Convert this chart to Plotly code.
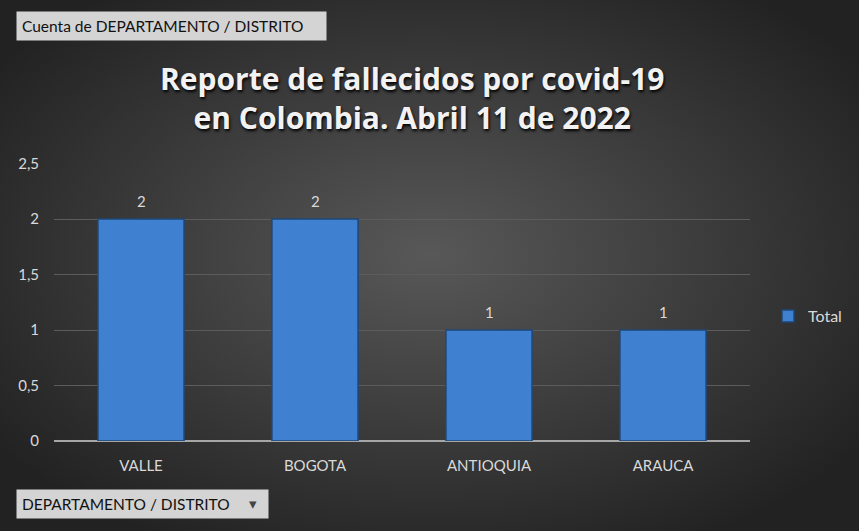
import plotly.graph_objects as go
import base64

categories = ["VALLE", "BOGOTA", "ANTIOQUIA", "ARAUCA"]
values = [2, 2, 1, 1]
series_name = "Total"
tick_vals = [0, 0.5, 1, 1.5, 2, 2.5]
tick_text = ["0", "0,5", "1", "1,5", "2", "2,5"]
title_text = "Reporte de fallecidos por covid-19<br>en Colombia. Abril 11 de 2022"
field_button = "Cuenta de DEPARTAMENTO / DISTRITO"
axis_button = "DEPARTAMENTO / DISTRITO"

W, H = 859, 531
y_top = 2.505
L, R, B = 54, 109, 90
ph = round(277 * y_top / 2.5)
T = H - B - ph
pw = W - L - R

svg = f'''<svg xmlns="http://www.w3.org/2000/svg" width="{W}" height="{H}" preserveAspectRatio="none">
<defs><radialGradient id="g" cx="50%" cy="48%" r="62%">
<stop offset="0%" stop-color="#585858"/><stop offset="100%" stop-color="#222222"/>
</radialGradient></defs><rect width="{W}" height="{H}" fill="url(#g)"/></svg>'''
bg = "data:image/svg+xml;base64," + base64.b64encode(svg.encode()).decode()

fig = go.Figure()
fig.add_trace(go.Bar(
    x=categories, y=values, name=series_name, showlegend=True,
    marker=dict(color="#3f80d0", line=dict(color="#1f4777", width=1.5)),
    width=0.495,
))

label_annotations = [
    dict(x=c, y=v, xref="x", yref="y", text=str(v), showarrow=False,
         yanchor="bottom", yshift=7, font=dict(size=15, color="#d9d9d9", family="Lato"))
    for c, v in zip(categories, values)
]

fig.update_layout(
    width=W, height=H,
    margin=dict(l=L, r=R, t=T, b=B),
    paper_bgcolor="#2b2b2b", plot_bgcolor="rgba(0,0,0,0)",
    font=dict(family="Lato", color="#d9d9d9", size=15),
    separators=",.",
    images=[dict(source=bg, xref="paper", yref="paper",
                 x=-L / pw, y=1 + T / ph, sizex=W / pw, sizey=H / ph,
                 xanchor="left", yanchor="top", sizing="stretch", layer="below")],
    xaxis=dict(showgrid=False, tickfont=dict(size=15, color="#d9d9d9"),
               ticks="", showline=False, ticklabelstandoff=14),
    yaxis=dict(range=[0, y_top], tickvals=tick_vals, ticktext=tick_text,
               showgrid=True, gridcolor="#5c5c5c", gridwidth=1,
               zeroline=True, zerolinecolor="#a6a6a6", zerolinewidth=2,
               tickfont=dict(size=15, color="#d9d9d9"), ticks="", ticklabelstandoff=14),
    legend=dict(x=(768 - L) / pw, y=(441 - 316) / ph, xanchor="left", yanchor="middle",
                font=dict(size=16, color="#d9d9d9"), bgcolor="rgba(0,0,0,0)",
                itemwidth=30),
    annotations=label_annotations + [
        dict(text="<b>" + title_text + "</b>", xref="paper", yref="paper",
             x=(412 - L) / pw, y=1 + (T - 98) / ph, xanchor="center", yanchor="middle",
             showarrow=False,
             font=dict(size=30, color="#f2f2f2", family="Open Sans",
                       shadow="1px 2px 3px #000000"),
             align="center"),
        dict(text=field_button, xref="paper", yref="paper",
             x=(16 - L) / pw, y=1 + (T - 26) / ph, xanchor="left", yanchor="middle",
             showarrow=False, font=dict(size=15.5, color="#111111", family="Lato"),
             bgcolor="#d4d4d4", borderpad=5, width=299, align="left"),
        dict(text=axis_button, xref="paper", yref="paper",
             x=(16 - L) / pw, y=-(504 - 441) / ph, xanchor="left", yanchor="middle",
             showarrow=False, font=dict(size=15.5, color="#111111", family="Lato"),
             bgcolor="#d4d4d4", borderpad=5, width=241, align="left"),
        dict(text="\u25BE", xref="paper", yref="paper",
             x=(253 - L) / pw, y=-(504 - 441) / ph, xanchor="center", yanchor="middle",
             showarrow=False, font=dict(size=15, color="#444444", family="DejaVu Sans")),
    ],
)

fig.write_html("out.html", config={"displayModeBar": False})
with open("out.html", encoding="utf-8") as f:
    html = f.read()
html = html.replace("<head>", "<head><style>html,body{margin:0;padding:0;overflow:hidden;}</style>", 1)
with open("out.html", "w", encoding="utf-8") as f:
    f.write(html)
